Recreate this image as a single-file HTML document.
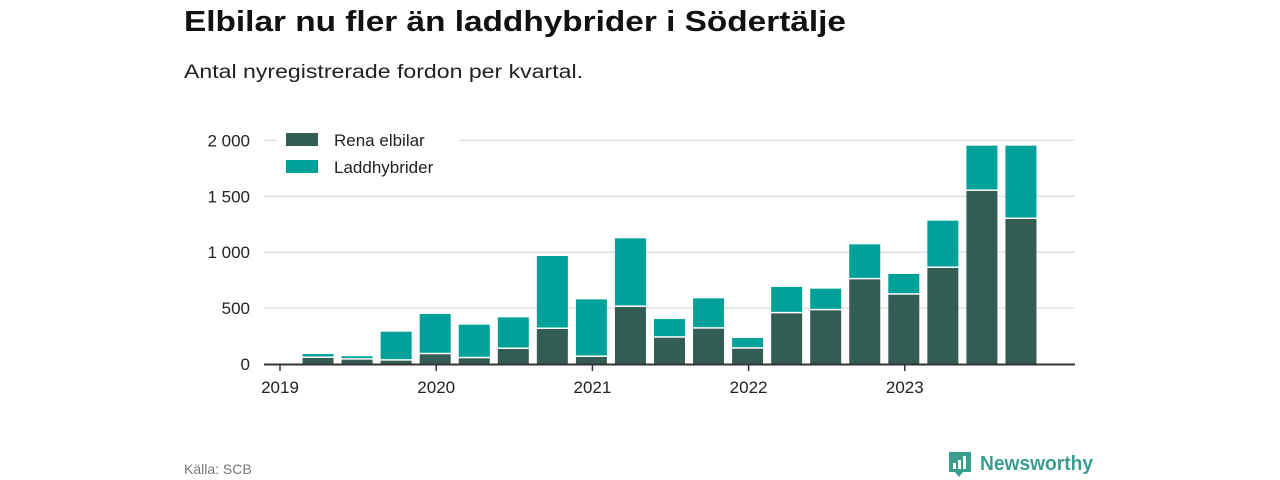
<!DOCTYPE html>
<html><head><meta charset="utf-8"><style>
html,body{margin:0;padding:0;background:#fff;}
svg{display:block;font-family:"Liberation Sans",sans-serif;}
</style></head><body>
<svg id="chart" width="1280" height="480" viewBox="0 0 1280 480">
<text x="184" y="31" font-size="29" font-weight="bold" fill="#111" textLength="662" lengthAdjust="spacingAndGlyphs">Elbilar nu fler än laddhybrider i Södertälje</text>
<text x="184" y="78" font-size="19" fill="#222" textLength="399" lengthAdjust="spacingAndGlyphs">Antal nyregistrerade fordon per kvartal.</text>
<g id="grid"></g>
<g id="bars"></g>
<g id="axes"></g>
<g>
<rect x="276" y="126" width="184" height="54" fill="#fff"/>
<rect x="286" y="133" width="32" height="13" fill="#335c55"/>
<text x="334" y="146" font-size="17" fill="#222">Rena elbilar</text>
<rect x="286" y="160" width="32" height="13" fill="#00a198"/>
<text x="334" y="173" font-size="17" fill="#222">Laddhybrider</text>
</g>
<text x="184" y="474" font-size="14" fill="#777">Källa: SCB</text>
<g>
<path d="M949 452 h22 v20 h-8 l-4 5 l-4 -5 h-6 z" fill="#3a9e8f"/>
<rect x="953" y="463" width="3" height="6" fill="#fff"/>
<rect x="958" y="460" width="3" height="9" fill="#fff"/>
<rect x="963" y="456" width="3" height="13" fill="#fff"/>
<text x="980" y="470" font-size="20" font-weight="bold" fill="#3a9e8f" textLength="113" lengthAdjust="spacingAndGlyphs">Newsworthy</text>
</g>
</svg>
<script>
const quarters = ["2019Q2","2019Q3","2019Q4","2020Q1","2020Q2","2020Q3","2020Q4","2021Q1","2021Q2","2021Q3","2021Q4","2022Q1","2022Q2","2022Q3","2022Q4","2023Q1","2023Q2","2023Q3","2023Q4"];
const elbilar = [54,39,30,87,51,134,313,63,510,235,316,137,453,480,757,620,859,1548,1297];
const laddhybrider = [35,30,259,360,301,283,653,515,614,167,271,95,236,194,313,185,423,405,656];
const yTicks = [0,500,1000,1500,2000];
const yTickLabels = ["0","500","1 000","1 500","2 000"];
const xTickYears = ["2019","2020","2021","2022","2023"];

const NS = "http://www.w3.org/2000/svg";
const y0 = 364, pxPerUnit = 0.1118;
const xStart = 280, quarterW = 39.05, barW = 31;
function yScale(v){ return y0 - v*pxPerUnit; }
function xQuarterIndex(q){ const yr = parseInt(q.slice(0,4)), qq = parseInt(q.slice(5)); return (yr-2019)*4 + (qq-1); }
function xCenter(q){ return xStart + xQuarterIndex(q)*quarterW; }
function mk(tag, attrs){ const e = document.createElementNS(NS, tag); for (const k in attrs) e.setAttribute(k, attrs[k]); return e; }

const grid = document.getElementById("grid");
yTicks.forEach((t,i)=>{
  if (t>0){
    const l = mk("line",{x1:264,x2:1075,y1:yScale(t),y2:yScale(t),stroke:"#ddd","stroke-width":1.3});
    
    
    grid.appendChild(l);
  }
  const tx = mk("text",{x:250,y:yScale(t)+6,"text-anchor":"end","font-size":17,fill:"#222"});
  tx.textContent = yTickLabels[i];
  
  
  grid.appendChild(tx);
});

const bars = document.getElementById("bars");
quarters.forEach((q,i)=>{
  const cx = xCenter(q) - 1;
  const d = mk("rect",{x:cx-barW/2,y:yScale(elbilar[i]),width:barW,height:y0-yScale(elbilar[i]),fill:"#335c55"});
  
  
  bars.appendChild(d);
  const top = elbilar[i]+laddhybrider[i];
  const h = mk("rect",{x:cx-barW/2,y:yScale(top),width:barW,height:Math.max(0,yScale(elbilar[i])-yScale(top)-1.5),fill:"#00a198"});
  
  
  bars.appendChild(h);
});

const axes = document.getElementById("axes");
const ax = mk("line",{x1:264,x2:1075,y1:y0+0.5,y2:y0+0.5,stroke:"#333","stroke-width":2});


axes.appendChild(ax);
xTickYears.forEach(yr=>{
  const x = xCenter(yr+"Q1");
  const t = mk("line",{x1:x,x2:x,y1:y0,y2:y0+7,stroke:"#333","stroke-width":1.5});
  
  
  axes.appendChild(t);
  const lb = mk("text",{x:x,y:y0+29,"text-anchor":"middle","font-size":17,fill:"#222"});
  lb.textContent = yr;
  
  
  axes.appendChild(lb);
});
</script>
</body></html>
